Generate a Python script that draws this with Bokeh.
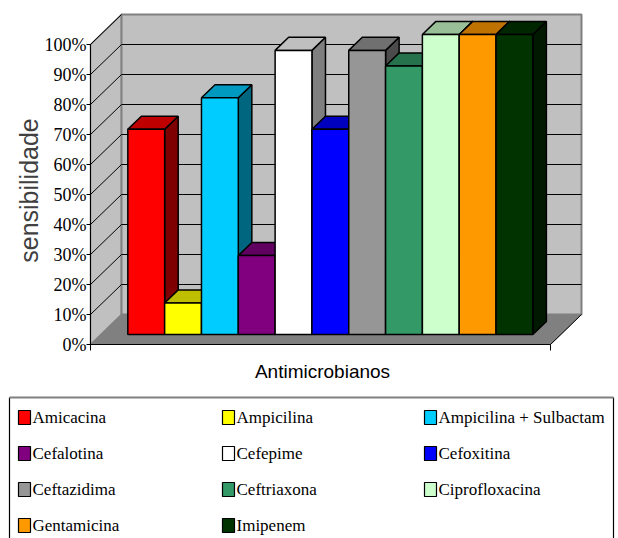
import math
from bokeh.plotting import figure
from bokeh.models import Range1d
from bokeh.core.properties import value
from bokeh.embed import file_html
from bokeh.resources import INLINE

# ---------------- data ----------------
categories = ["Amicacina", "Ampicilina", "Ampicilina + Sulbactam", "Cefalotina",
              "Cefepime", "Cefoxitina", "Ceftazidima", "Ceftriaxona",
              "Ciprofloxacina", "Gentamicina", "Imipenem"]
sensibilidade = [68.4, 10.5, 78.9, 26.3, 94.7, 68.4, 94.7, 89.5, 100.0, 100.0, 100.0]
y_ticks = [0, 10, 20, 30, 40, 50, 60, 70, 80, 90, 100]
y_tick_labels = ["0%", "10%", "20%", "30%", "40%", "50%", "60%", "70%", "80%", "90%", "100%"]
x_title = "Antimicrobianos"
y_title = "sensibilidade"

# ---------------- style ----------------
bar_colors = ["#FF0000", "#FFFF00", "#00CCFF", "#800080", "#FFFFFF", "#0000FF",
              "#969696", "#339966", "#CCFFCC", "#FF9900", "#003300"]


def shade(hex_color, f):
    r, g, b = (int(hex_color[i:i + 2], 16) for i in (1, 3, 5))
    return "#%02X%02X%02X" % (int(r * f), int(g * f), int(b * f))


top_colors = [shade(c, 0.75) for c in bar_colors]
side_colors = [shade(c, 0.5) for c in bar_colors]

W, H = 618, 538
ORIGIN_X, ORIGIN_Y = 117.0, 344.0   # screen position of (bar 0, 0 %)
BAR_W_PX = 36.82                    # one bar = one x unit
PCT_PX = 3.0                        # pixels per percent


def sx(px):
    return (px - ORIGIN_X) / BAR_W_PX


def sy(py):
    return (ORIGIN_Y - py) / PCT_PX


DX = 31.0 / BAR_W_PX   # full depth of the chart in x units
DY = 30.0 / PCT_PX     # full depth of the chart in y units
D0, D1 = 1.0 / 3.0, 0.77   # depth band occupied by the bars

WALL_L = sx(90)
WALL_R = sx(550)
Y_MAX = y_ticks[-1]

p = figure(width=W, height=H,
           x_range=Range1d(sx(0), sx(W)), y_range=Range1d(sy(H), sy(0)),
           output_backend="svg", toolbar_location=None,
           x_axis_location=None, y_axis_location=None, min_border=0)
p.outline_line_color = None
p.background_fill_color = "white"
p.border_fill_color = "white"
p.xgrid.visible = False
p.ygrid.visible = False

# ---------------- walls and floor ----------------
p.patch([WALL_L, WALL_L, WALL_L + DX, WALL_L + DX], [0, Y_MAX, Y_MAX + DY, DY],
        fill_color="#C0C0C0", line_color="#808080", line_width=1.5)
p.patch([WALL_L + DX, WALL_R + DX, WALL_R + DX, WALL_L + DX], [DY, DY, Y_MAX + DY, Y_MAX + DY],
        fill_color="#C0C0C0", line_color="#808080", line_width=2)
p.patch([WALL_L, WALL_R, WALL_R + DX, WALL_L + DX], [0, 0, DY, DY],
        fill_color="#808080", line_color="#808080", line_width=1)

grid_vals = y_ticks[1:-1]
p.segment(x0=[WALL_L + DX] * len(grid_vals), y0=[t + DY for t in grid_vals],
          x1=[WALL_R + DX] * len(grid_vals), y1=[t + DY for t in grid_vals],
          line_color="black", line_width=1)
diag_vals = y_ticks[1:]
p.segment(x0=[WALL_L] * len(diag_vals), y0=diag_vals,
          x1=[WALL_L + DX] * len(diag_vals), y1=[t + DY for t in diag_vals],
          line_color="black", line_width=1)
p.segment(x0=[WALL_R], y0=[0], x1=[WALL_R + DX], y1=[DY], line_color="black", line_width=1)

# ---------------- bars ----------------
xs_side, ys_side, xs_top, ys_top = [], [], [], []
left, right, bottom, top = [], [], [], []
for i, v in enumerate(sensibilidade):
    xa0, xb0 = i + D0 * DX, i + 1 + D0 * DX
    xa1, xb1 = i + D1 * DX, i + 1 + D1 * DX
    y0b, y1b = D0 * DY, D1 * DY
    xs_side.append([xb0, xb1, xb1, xb0])
    ys_side.append([y0b, y1b, v + y1b, v + y0b])
    xs_top.append([xa0, xb0, xb1, xa1])
    ys_top.append([v + y0b, v + y0b, v + y1b, v + y1b])
    left.append(xa0); right.append(xb0); bottom.append(y0b); top.append(v + y0b)

p.patches(xs=xs_side, ys=ys_side, fill_color=side_colors, line_color="black", line_width=1.5)
p.patches(xs=xs_top, ys=ys_top, fill_color=top_colors, line_color="black", line_width=1.5)
p.quad(left=left, right=right, bottom=bottom, top=top,
       fill_color=bar_colors, line_color="black", line_width=1.5)

# ---------------- axes ----------------
p.segment(x0=[WALL_L, WALL_L, WALL_R], y0=[sy(350), 0, 0],
          x1=[WALL_L, WALL_R, WALL_R], y1=[Y_MAX, 0, sy(350)],
          line_color="black", line_width=1)
p.segment(x0=[sx(86)] * len(y_ticks), y0=y_ticks, x1=[WALL_L] * len(y_ticks), y1=y_ticks,
          line_color="black", line_width=1)
p.text(x=[sx(86)] * len(y_ticks), y=y_ticks, text=y_tick_labels,
       text_align="right", text_baseline="middle",
       text_font=value("Liberation Serif"), text_font_size="18px", text_color="black")

p.text(x=[sx(322)], y=[sy(371)], text=[x_title], text_align="center", text_baseline="middle",
       text_font=value("Liberation Sans"), text_font_size="19px", text_color="black")
p.text(x=[sx(28)], y=[sy(190)], text=[y_title], angle=math.pi / 2,
       text_align="center", text_baseline="middle",
       text_font=value("Liberation Sans"), text_font_size="25px", text_color="#404040")

# ---------------- legend ----------------
LEG_COLS = [18, 222, 424]
LEG_ROWS = [417, 453, 489, 525]
p.segment(x0=[sx(9), sx(613)], y0=[sy(397), sy(397)], x1=[sx(9), sx(613)], y1=[sy(545), sy(545)],
          line_color="black", line_width=1.2)
p.segment(x0=[sx(9)], y0=[sy(397)], x1=[sx(613)], y1=[sy(397)], line_color="#808080", line_width=2)

sw_l, sw_r, sw_t, sw_b, tx, ty = [], [], [], [], [], []
for k, name in enumerate(categories):
    r, c = divmod(k, 3)
    cx, cy = LEG_COLS[c], LEG_ROWS[r]
    sw_l.append(sx(cx)); sw_r.append(sx(cx + 12))
    sw_t.append(sy(cy - 7)); sw_b.append(sy(cy + 7))
    tx.append(sx(cx + 14)); ty.append(sy(cy))
p.quad(left=sw_l, right=sw_r, top=sw_t, bottom=sw_b, fill_color=bar_colors,
       line_color="black", line_width=1.2)
p.text(x=tx, y=ty, text=categories, text_align="left", text_baseline="middle",
       text_font=value("Liberation Serif"), text_font_size="17px", text_color="black")

open("out.html", "w").write(file_html(p, INLINE))
